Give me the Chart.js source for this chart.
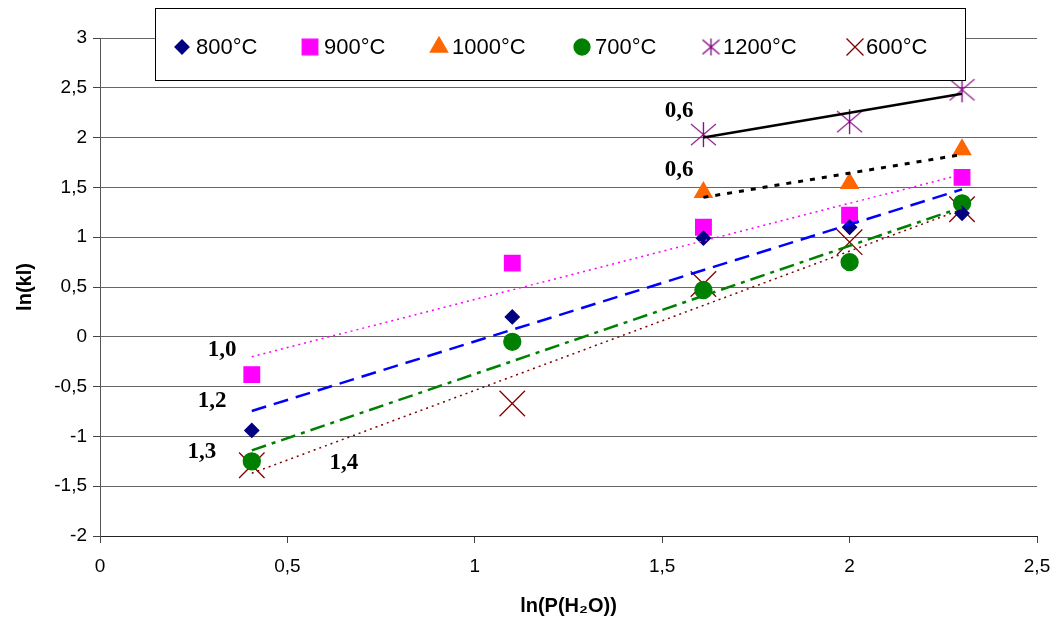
<!DOCTYPE html>
<html>
<head>
<meta charset="utf-8">
<script src="https://cdn.jsdelivr.net/npm/chart.js@4.4.1/dist/chart.umd.min.js"></script>
<style>
html, body { margin: 0; padding: 0; background: #fff; }
</style>
</head>
<body>
<canvas id="graph" width="1058" height="621"></canvas>
<script>
// ln(P(H2O)) positions of the measurements
var xs = [0.405, 1.1, 1.61, 2.0, 2.3];
var xsHigh = [1.61, 2.0, 2.3];

var k800 = [-0.94, 0.2, 0.99, 1.1, 1.24];
var k900 = [-0.38, 0.74, 1.1, 1.22, 1.6];
var k1000 = [1.45, 1.54, 1.88];
var k700 = [-1.25, -0.05, 0.47, 0.75, 1.34];
var k1200 = [2.03, 2.16, 2.48];
var k600 = [-1.29, -0.67, 0.53, 0.95, 1.28];

// trend lines, start and end
var trendX = [0.405, 2.3];
var trend900 = [-0.2, 1.63];
var trend800 = [-0.745, 1.48];
var trend700 = [-1.14, 1.3];
var trend600 = [-1.37, 1.28];
var trendXHigh = [1.61, 2.3];
var trend1000 = [1.4, 1.83];
var trend1200 = [2.0, 2.44];

// slope labels next to the trend lines
var slopeLabels = ["1,0", "1,2", "1,3", "1,4", "0,6", "0,6"];
var slopeX = [0.326, 0.299, 0.272, 0.651, 1.545, 1.545];
var slopeY = [-0.13, -0.645, -1.157, -1.267, 2.267, 1.675];

function pts(x, y) {
  return x.map(function (v, i) { return { x: v, y: y[i] }; });
}

function starImage(size, color, lw) {
  var c = document.createElement("canvas");
  c.width = size; c.height = size;
  var g = c.getContext("2d");
  g.strokeStyle = color;
  g.lineWidth = lw;
  var m = size / 2, r = size / 2 - 1;
  g.beginPath();
  g.moveTo(m, m - r); g.lineTo(m, m + r);
  g.moveTo(m - r, m - r * 0.85); g.lineTo(m + r, m + r * 0.85);
  g.moveTo(m - r, m + r * 0.85); g.lineTo(m + r, m - r * 0.85);
  g.stroke();
  return c;
}

var starBig = starImage(27, "#800080", 1.3);
var starSmall = starImage(19, "#800080", 1.3);

function comma(v) { return String(v).replace(".", ","); }

Chart.defaults.font.family = "'Liberation Sans', Arial, sans-serif";
Chart.defaults.color = "#000";

var legendItems = [
  { text: "800°C", style: "rectRot", r: 7, color: "#000080", mx: 182, tx: 196 },
  { text: "900°C", style: "rect", r: 11, color: "#FF00FF", mx: 310, tx: 324 },
  { text: "1000°C", style: "triangle", r: 10, color: "#FF6600", mx: 439, tx: 452 },
  { text: "700°C", style: "circle", r: 8, color: "#008000", mx: 582, tx: 595 },
  { text: "1200°C", style: "star", r: 0, color: "#800080", mx: 711, tx: 723 },
  { text: "600°C", style: "crossRot", r: 12, color: "#800000", mx: 855, tx: 866 }
];

var boxLegend = {
  id: "boxLegend",
  afterDraw: function (chart) {
    var ctx = chart.ctx;
    ctx.save();
    ctx.fillStyle = "#fff";
    ctx.fillRect(155, 8, 810, 72);
    ctx.strokeStyle = "#000";
    ctx.lineWidth = 1;
    ctx.strokeRect(155.5, 8.5, 810, 72);
    var cy = 47;
    legendItems.forEach(function (it) {
      if (it.style === "star") {
        ctx.drawImage(starSmall, it.mx - starSmall.width / 2, cy - starSmall.height / 2);
      } else {
        ctx.fillStyle = it.color;
        ctx.strokeStyle = it.color;
        ctx.lineWidth = 1.3;
        Chart.helpers.drawPoint(ctx, { pointStyle: it.style, radius: it.r, rotation: 0, borderWidth: 1.3 }, it.mx, cy);
      }
      ctx.fillStyle = "#000";
      ctx.font = "22px 'Liberation Sans', Arial, sans-serif";
      ctx.textBaseline = "middle";
      ctx.textAlign = "left";
      ctx.fillText(it.text, it.tx, cy + 1);
    });
    ctx.restore();
  }
};

var slopeText = {
  id: "slopeText",
  afterDatasetsDraw: function (chart) {
    var ctx = chart.ctx, sx = chart.scales.x, sy = chart.scales.y;
    ctx.save();
    ctx.fillStyle = "#000";
    ctx.font = "bold 23px 'Liberation Serif', 'Times New Roman', serif";
    ctx.textAlign = "center";
    ctx.textBaseline = "middle";
    slopeLabels.forEach(function (t, i) {
      ctx.fillText(t, sx.getPixelForValue(slopeX[i]), sy.getPixelForValue(slopeY[i]));
    });
    ctx.restore();
  }
};

function marker(label, data, style, r, color) {
  return {
    label: label, data: data, pointStyle: style, pointRadius: r,
    backgroundColor: color, borderColor: color, borderWidth: 1.3, showLine: false
  };
}

function trend(data, color, width, dash) {
  return {
    label: "", data: data, showLine: true, borderColor: color, borderWidth: width,
    borderDash: dash, pointRadius: 0, fill: false, backgroundColor: color
  };
}

var graph = new Chart("graph", {
  type: "scatter",
  data: {
    datasets: [
      trend(pts(trendX, trend900), "#FF00FF", 1.5, [2, 4]),
      trend(pts(trendX, trend800), "#0000FF", 2.5, [15, 8]),
      trend(pts(trendX, trend700), "#008000", 2.5, [15, 6, 4, 6]),
      trend(pts(trendX, trend600), "#800000", 1.5, [2, 4]),
      trend(pts(trendXHigh, trend1000), "#000", 3, [5, 7]),
      trend(pts(trendXHigh, trend1200), "#000", 2.5, []),
      marker("800°C", pts(xs, k800), "rectRot", 7, "#000080"),
      marker("900°C", pts(xs, k900), "rect", 11, "#FF00FF"),
      marker("1000°C", pts(xsHigh, k1000), "triangle", 10, "#FF6600"),
      marker("700°C", pts(xs, k700), "circle", 8.5, "#008000"),
      marker("1200°C", pts(xsHigh, k1200), starBig, 13, "#800080"),
      marker("600°C", pts(xs, k600), "crossRot", 18, "#800000")
    ]
  },
  options: {
    responsive: false,
    animation: false,
    layout: { padding: { left: 0, right: 21, top: 38, bottom: 0 } },
    plugins: { legend: { display: false }, tooltip: { enabled: false } },
    scales: {
      x: {
        type: "linear", min: 0, max: 2.5,
        afterFit: function (s) { s.height = 85; s.paddingLeft = 0; s.paddingRight = 0; },
        ticks: { stepSize: 0.5, padding: 12, font: { size: 19 }, callback: comma },
        grid: { drawOnChartArea: false, drawTicks: true, tickLength: 7, tickColor: "#444" },
        border: { color: "#222", width: 1 },
        title: { display: true, text: "ln(P(H₂O))", font: { size: 20, weight: "bold" }, padding: { top: 0, bottom: 3 } }
      },
      y: {
        min: -2, max: 3,
        afterFit: function (s) { s.width = 100; s.paddingTop = 0; s.paddingBottom = 0; },
        ticks: { stepSize: 0.5, padding: 6, font: { size: 19 }, callback: comma },
        grid: { color: "#666", tickLength: 7, tickColor: "#444" },
        border: { color: "#555", width: 1 },
        title: { display: true, text: "ln(kl)", font: { size: 20, weight: "bold" }, padding: { top: 13, bottom: 0 } }
      }
    }
  },
  plugins: [slopeText, boxLegend]
});
</script>
</body>
</html>
